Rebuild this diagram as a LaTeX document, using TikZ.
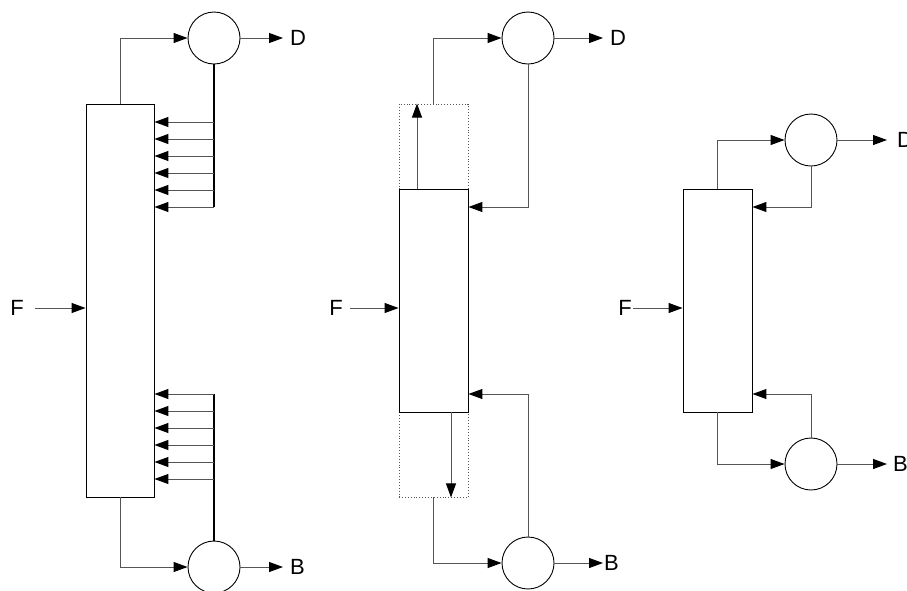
\documentclass[tikz,border=0pt]{standalone}
\usepackage{fontspec}
\setmainfont{Liberation Sans}
\usetikzlibrary{arrows.meta}
\definecolor{ln}{HTML}{555555}
\tikzset{
  x=1pt, y=-1pt,
  col/.style={draw=black, line width=0.9pt, fill=white, inner sep=0pt, minimum width=68pt},
  zone/.style={draw=ln, dotted, line width=0.9pt, inner sep=0pt, minimum width=68pt, minimum height=85pt},
  vessel/.style={draw=black, line width=0.9pt, circle, inner sep=0pt, minimum size=52pt},
  flow/.style={draw=ln, line width=1pt, -{Triangle[length=14pt,width=10pt,color=black]}},
  pipe/.style={draw=ln, line width=1pt},
  thickpipe/.style={draw=black, line width=1.8pt},
  lab/.style={inner sep=0pt, font=\fontsize{22}{26}\selectfont}
}
\begin{document}
\begin{tikzpicture}
\useasboundingbox (0,0) rectangle (907,590);

% ---------- left column ----------
\node[col, minimum height=393pt] (col1) at (120,300.5) {};
\node[vessel] (cd1) at (214,38) {};
\node[vessel] (rb1) at (214,567) {};
\node[lab, anchor=west] (D1) at (290,38) {D};
\node[lab, anchor=west] (B1) at (290,567) {B};
\node[lab, anchor=east] (F1) at (24,308) {F};
\coordinate (f1s) at (35,308);
\coordinate (d1e) at (283,38);
\coordinate (b1e) at (283,567);
\draw[flow] (col1.north) |- (cd1.west);
\draw[flow] (cd1.east) -- (d1e);
\draw[flow] (col1.south) |- (rb1.west);
\draw[flow] (rb1.east) -- (b1e);
\draw[flow] (f1s) -- (col1.west |- f1s);
\coordinate (t1) at (214,207);
\coordinate (u1) at (214,394);
\draw[thickpipe] (cd1.south) -- (t1);
\draw[thickpipe] (rb1.north) -- (u1);
\foreach \yy in {122,139,156,173,190,207}{
  \draw[flow] (214,\yy) -- (col1.east |- 0,\yy);
}
\foreach \yy in {394,411,428,445,462,479}{
  \draw[flow] (214,\yy) -- (col1.east |- 0,\yy);
}

% ---------- middle column ----------
\node[zone, minimum width=69pt] (top2) at (433.5,146.5) {};
\node[zone, minimum width=69pt] (bot2) at (433.5,454.5) {};
\node[col, minimum width=69pt, minimum height=223pt] (col2) at (433.5,300.5) {};
\node[vessel] (cd2) at (528,38) {};
\node[vessel] (rb2) at (528,563) {};
\node[lab, anchor=west] (D2) at (610,38) {D};
\node[lab, anchor=west] (B2) at (604,563) {B};
\node[lab, anchor=east] (F2) at (343,308) {F};
\coordinate (f2s) at (350,308);
\coordinate (d2e) at (603,38);
\coordinate (b2e) at (603,563);
\draw[flow] (top2.north) |- (cd2.west);
\draw[flow] (cd2.east) -- (d2e);
\draw[flow] (bot2.south) |- (rb2.west);
\draw[flow] (rb2.east) -- (b2e);
\draw[flow] (f2s) -- (col2.west |- f2s);
\draw[flow] (col2.north -| 417,0) -- (top2.north -| 417,0);
\draw[flow] (col2.south -| 451,0) -- (bot2.south -| 451,0);
\draw[flow] (cd2.south) |- (col2.east |- 0,207);
\draw[flow] (rb2.north) |- (col2.east |- 0,394);

% ---------- right column ----------
\node[col, minimum width=69pt, minimum height=223pt] (col3) at (717.5,300.5) {};
\node[vessel] (cd3) at (811,140) {};
\node[vessel] (rb3) at (811,464) {};
\node[lab, anchor=west] (D3) at (897,140) {D};
\node[lab, anchor=west] (B3) at (893,464) {B};
\node[lab, anchor=east] (F3) at (632,308) {F};
\coordinate (f3s) at (633,308);
\coordinate (d3e) at (887,140);
\coordinate (b3e) at (887,464);
\draw[flow] (col3.north) |- (cd3.west);
\draw[flow] (cd3.east) -- (d3e);
\draw[flow] (col3.south) |- (rb3.west);
\draw[flow] (rb3.east) -- (b3e);
\draw[flow] (f3s) -- (col3.west |- f3s);
\draw[flow] (cd3.south) |- (col3.east |- 0,207);
\draw[flow] (rb3.north) |- (col3.east |- 0,394);
\end{tikzpicture}
\end{document}
